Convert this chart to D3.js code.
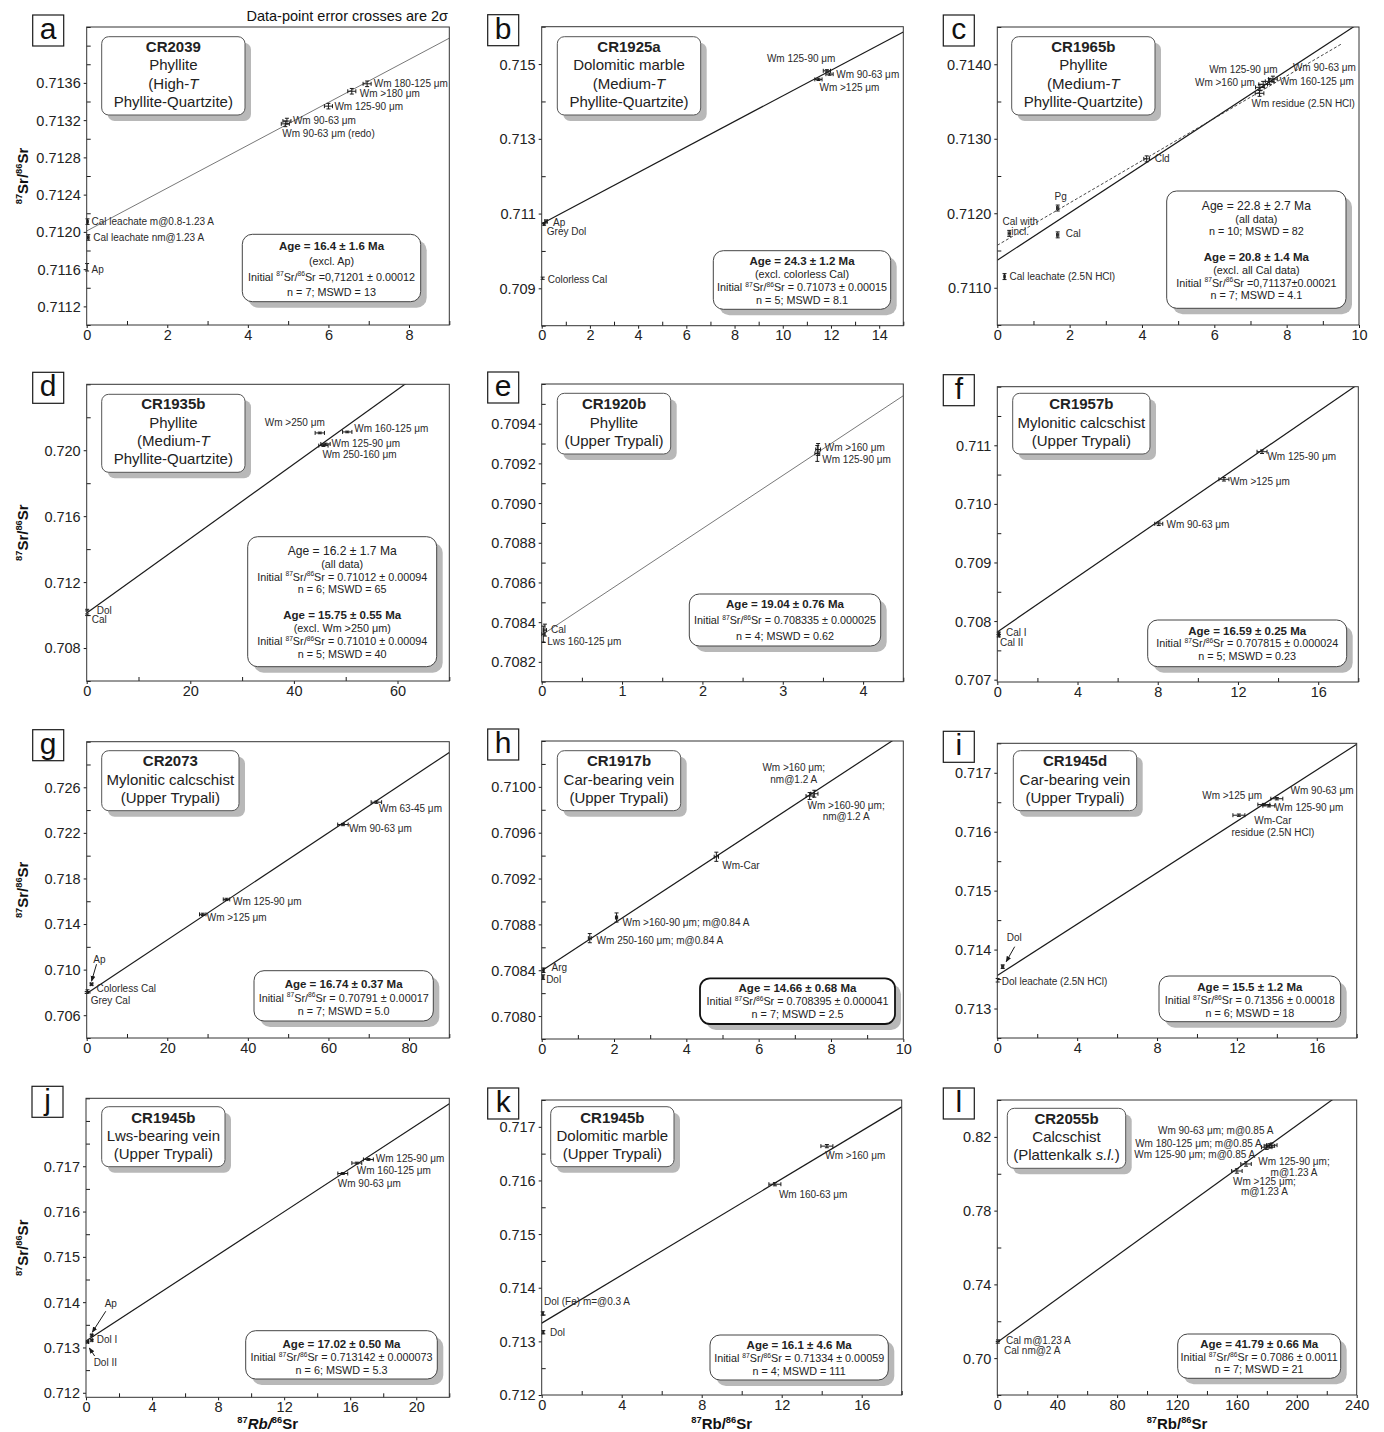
<!DOCTYPE html>
<html><head><meta charset="utf-8">
<script src="https://cdn.jsdelivr.net/npm/d3@7"></script>
<style>
body{margin:0;background:#fff}
svg{display:block}
text{font-family:"Liberation Sans",Arial,Helvetica,sans-serif}
</style>
</head><body>
<svg id="c" width="1384" height="1432"></svg>
<script>
// ---------------- DATA ----------------
// a
const xDomA=[0,9], yDomA=[0.7110,0.7142];
const xTicksA=["0","2","4","6","8"];
const yTicksA=["0.7112","0.7116","0.7120","0.7124","0.7128","0.7132","0.7136"];
const titleA=["*CR2039*","Phyllite","(High-~T~","Phyllite-Quartzite)"];
const ptsA=[
 {n:"Wm 180-125 μm",x:6.96,y:0.71359,ex:0.1,ey:0.00003},
 {n:"Wm >180 μm",x:6.58,y:0.71351,ex:0.1,ey:0.00003},
 {n:"Wm 125-90 μm",x:6.0,y:0.71335,ex:0.1,ey:0.00003},
 {n:"Wm 90-63 μm",x:4.97,y:0.71319,ex:0.1,ey:0.00003},
 {n:"Wm 90-63 μm (redo)",x:4.93,y:0.71316,ex:0.1,ey:0.00003},
 {n:"Cal leachate m@0.8-1.23 A",x:0.02,y:0.71211,ex:0.02,ey:0.00003},
 {n:"Cal leachate nm@1.23 A",x:0.04,y:0.71194,ex:0.02,ey:0.00003},
 {n:"Ap",x:0.01,y:0.71162,ex:0.01,ey:0.00004}];
const isoA=[{i:0.71201,s:0.000230}];
const statA=["*Age = 16.4 ± 1.6 Ma*","(excl. Ap)","Initial ^87^Sr/^86^Sr =0,71201 ± 0.00012","n = 7; MSWD = 13"];
// b
const xDomB=[0,15], yDomB=[0.708,0.716];
const xTicksB=["0","2","4","6","8","10","12","14"];
const yTicksB=["0.709","0.711","0.713","0.715"];
const titleB=["*CR1925a*","Dolomitic marble","(Medium-~T~","Phyllite-Quartzite)"];
const ptsB=[
 {n:"Wm 125-90 μm",x:11.83,y:0.71482,ex:0.15,ey:0.00003},
 {n:"Wm 90-63 μm",x:11.94,y:0.71473,ex:0.15,ey:0.00003},
 {n:"Wm >125 μm",x:11.48,y:0.71459,ex:0.15,ey:0.00003},
 {n:"Ap",x:0.18,y:0.71079,ex:0.05,ey:0.00004},
 {n:"Grey Dol",x:0.1,y:0.71072,ex:0.03,ey:0.00003},
 {n:"Colorless Cal",x:0.04,y:0.70927,ex:0.02,ey:0.00003}];
const isoB=[{i:0.71073,s:0.000342}];
const statB=["*Age = 24.3 ± 1.2 Ma*","(excl. colorless Cal)","Initial ^87^Sr/^86^Sr = 0.71073 ± 0.00015","n = 5; MSWD = 8.1"];
// c
const xDomC=[0,10], yDomC=[0.7105,0.7145];
const xTicksC=["0","2","4","6","8","10"];
const yTicksC=["0.7110","0.7120","0.7130","0.7140"];
const titleC=["*CR1965b*","Phyllite","(Medium-~T~","Phyllite-Quartzite)"];
const ptsC=[
 {n:"Wm 125-90 μm",x:7.35,y:0.71373,ex:0.12,ey:0.00004},
 {n:"Wm >160 μm",x:7.26,y:0.71369,ex:0.12,ey:0.00004},
 {n:"Wm 90-63 μm",x:7.62,y:0.71380,ex:0.12,ey:0.00004},
 {n:"Wm 160-125 μm",x:7.53,y:0.71377,ex:0.12,ey:0.00004},
 {n:"Wm residue (2.5N HCl)",x:7.25,y:0.71361,ex:0.12,ey:0.00004},
 {n:"Cld",x:4.13,y:0.71273,ex:0.08,ey:0.00004},
 {n:"Pg",x:1.67,y:0.71207,ex:0.03,ey:0.00004},
 {n:"Cal",x:1.67,y:0.71171,ex:0.03,ey:0.00004},
 {n:"Cal with\nincl.",x:0.33,y:0.71173,ex:0.03,ey:0.00004},
 {n:"Cal leachate (2.5N HCl)",x:0.2,y:0.71115,ex:0.02,ey:0.00004}];
const isoC=[{i:0.71137,s:0.000318},{i:0.71157,s:0.000284,x1:9.5}];
const statC=["#Age = 22.8 ± 2.7 Ma#","(all data)","n = 10; MSWD = 82","","*Age = 20.8 ± 1.4 Ma*","(excl. all Cal data)","Initial ^87^Sr/^86^Sr =0,71137±0.00021","n = 7; MSWD = 4.1"];
// d
const xDomD=[0,70], yDomD=[0.706,0.724];
const xTicksD=["0","20","40","60"];
const yTicksD=["0.708","0.712","0.716","0.720"];
const titleD=["*CR1935b*","Phyllite","(Medium-~T~","Phyllite-Quartzite)"];
const ptsD=[
 {n:"Wm >250 μm",x:45.0,y:0.72105,ex:0.9,ey:0.00005},
 {n:"Wm 160-125 μm",x:50.3,y:0.72111,ex:0.9,ey:0.00005},
 {n:"Wm 125-90 μm",x:46.1,y:0.72038,ex:0.9,ey:0.00005},
 {n:"Wm 250-160 μm",x:45.7,y:0.72028,ex:0.9,ey:0.00005},
 {n:"Dol",x:0.1,y:0.7103,ex:0.1,ey:0.00005},
 {n:"Cal",x:0.1,y:0.71002,ex:0.1,ey:0.00005}];
const isoD=[{i:0.71012,s:0.000226}];
const statD=["#Age = 16.2 ± 1.7 Ma#","(all data)","Initial ^87^Sr/^86^Sr = 0.71012 ± 0.00094","n = 6; MSWD = 65","","*Age = 15.75 ± 0.55 Ma*","(excl. Wm >250 μm)","Initial ^87^Sr/^86^Sr = 0.71010 ± 0.00094","n = 5; MSWD = 40"];
// e
const xDomE=[0,4.5], yDomE=[0.7081,0.7096];
const xTicksE=["0","1","2","3","4"];
const yTicksE=["0.7082","0.7084","0.7086","0.7088","0.7090","0.7092","0.7094"];
const titleE=["*CR1920b*","Phyllite","(Upper Trypali)"];
const ptsE=[
 {n:"Wm >160 μm",x:3.44,y:0.70927,ex:0.03,ey:0.00003},
 {n:"Wm 125-90 μm",x:3.43,y:0.70925,ex:0.03,ey:0.00004},
 {n:"Cal",x:0.04,y:0.70836,ex:0.02,ey:0.00003},
 {n:"Lws 160-125 μm",x:0.02,y:0.70834,ex:0.02,ey:0.00004}];
const isoE=[{i:0.708335,s:0.000268}];
const statE=["*Age = 19.04 ± 0.76 Ma*","Initial ^87^Sr/^86^Sr = 0.708335 ± 0.000025","n = 4; MSWD = 0.62"];
// f
const xDomF=[0,18], yDomF=[0.70696,0.712];
const xTicksF=["0","4","8","12","16"];
const yTicksF=["0.707","0.708","0.709","0.710","0.711"];
const titleF=["*CR1957b*","Mylonitic calcschist","(Upper Trypali)"];
const ptsF=[
 {n:"Wm 125-90 μm",x:13.2,y:0.71089,ex:0.25,ey:0.00003},
 {n:"Wm >125 μm",x:11.3,y:0.71042,ex:0.25,ey:0.00003},
 {n:"Wm 90-63 μm",x:8.05,y:0.70966,ex:0.2,ey:0.00003},
 {n:"Cal I",x:0.07,y:0.70779,ex:0.05,ey:0.00002},
 {n:"Cal II",x:0.07,y:0.70775,ex:0.05,ey:0.00002}];
const isoF=[{i:0.707815,s:0.000235}];
const statF=["*Age = 16.59 ± 0.25 Ma*","Initial ^87^Sr/^86^Sr = 0.707815 ± 0.000024","n = 5; MSWD = 0.23"];
// g
const xDomG=[0,90], yDomG=[0.704,0.730];
const xTicksG=["0","20","40","60","80"];
const yTicksG=["0.706","0.710","0.714","0.718","0.722","0.726"];
const titleG=["*CR2073*","Mylonitic calcschist","(Upper Trypali)"];
const ptsG=[
 {n:"Wm 63-45 μm",x:71.9,y:0.72469,ex:1.3,ey:0.0001},
 {n:"Wm 90-63 μm",x:63.6,y:0.72273,ex:1.3,ey:0.0001},
 {n:"Wm 125-90 μm",x:34.7,y:0.71616,ex:0.8,ey:0.0001},
 {n:"Wm >125 μm",x:28.8,y:0.71485,ex:0.8,ey:0.0001},
 {n:"Ap",x:1.2,y:0.70872,ex:0.3,ey:0.0001},
 {n:"Colorless Cal",x:0.2,y:0.70815,ex:0.1,ey:0.00008},
 {n:"Grey Cal",x:0.0,y:0.70799,ex:0.1,ey:0.00008}];
const isoG=[{i:0.70791,s:0.000235}];
const statG=["*Age = 16.74 ± 0.37 Ma*","Initial ^87^Sr/^86^Sr = 0.70791 ± 0.00017","n = 7; MSWD = 5.0"];
// h
const xDomH=[0,10], yDomH=[0.7078,0.7104];
const xTicksH=["0","2","4","6","8","10"];
const yTicksH=["0.7080","0.7084","0.7088","0.7092","0.7096","0.7100"];
const titleH=["*CR1917b*","Car-bearing vein","(Upper Trypali)"];
const ptsH=[
 {n:"Wm >160 μm;\nnm@1.2 A",x:7.54,y:0.70994,ex:0.1,ey:0.00003},
 {n:"Wm >160-90 μm;\nnm@1.2 A",x:7.41,y:0.70992,ex:0.1,ey:0.00003},
 {n:"Wm-Car",x:4.83,y:0.70939,ex:0.06,ey:0.00004},
 {n:"Wm >160-90 μm; m@0.84 A",x:2.07,y:0.70886,ex:0.03,ey:0.00004},
 {n:"Wm 250-160 μm; m@0.84 A",x:1.33,y:0.70868,ex:0.04,ey:0.00004},
 {n:"Arg",x:0.05,y:0.7084,ex:0.02,ey:0.00002},
 {n:"Dol",x:0.04,y:0.70834,ex:0.02,ey:0.00002}];
const isoH=[{i:0.708395,s:0.000207}];
const statH=["*Age = 14.66 ± 0.68 Ma*","Initial ^87^Sr/^86^Sr = 0.708395 ± 0.000041","n = 7; MSWD = 2.5"];
// i
const xDomI=[0,18], yDomI=[0.7125,0.7175];
const xTicksI=["0","4","8","12","16"];
const yTicksI=["0.713","0.714","0.715","0.716","0.717"];
const titleI=["*CR1945d*","Car-bearing vein","(Upper Trypali)"];
const ptsI=[
 {n:"Wm 90-63 μm",x:14.0,y:0.71656,ex:0.3,ey:0.00002},
 {n:"Wm >125 μm",x:13.35,y:0.71646,ex:0.3,ey:0.00002},
 {n:"Wm 125-90 μm",x:13.6,y:0.71644,ex:0.3,ey:0.00002},
 {n:"Wm-Car\nresidue (2.5N HCl)",x:12.1,y:0.71628,ex:0.3,ey:0.00002},
 {n:"Dol",x:0.27,y:0.71371,ex:0.05,ey:0.00003},
 {n:"Dol leachate (2.5N HCl)",x:0.02,y:0.71348,ex:0.02,ey:0.00003}];
const isoI=[{i:0.71356,s:0.000218}];
const statI=["*Age = 15.5 ± 1.2 Ma*","Initial ^87^Sr/^86^Sr = 0.71356 ± 0.00018","n = 6; MSWD = 18"];
// j
const xDomJ=[0,22], yDomJ=[0.7119,0.7185];
const xTicksJ=["0","4","8","12","16","20"];
const yTicksJ=["0.712","0.713","0.714","0.715","0.716","0.717"];
const titleJ=["*CR1945b*","Lws-bearing vein","(Upper Trypali)"];
const ptsJ=[
 {n:"Wm 125-90 μm",x:17.1,y:0.71715,ex:0.3,ey:0.00002},
 {n:"Wm 160-125 μm",x:16.4,y:0.71707,ex:0.3,ey:0.00002},
 {n:"Wm 90-63 μm",x:15.55,y:0.71684,ex:0.3,ey:0.00002},
 {n:"Ap",x:0.35,y:0.71327,ex:0.05,ey:0.00002},
 {n:"Dol I",x:0.35,y:0.71316,ex:0.05,ey:0.00002},
 {n:"Dol II",x:0.1,y:0.71312,ex:0.05,ey:0.00002}];
const isoJ=[{i:0.713142,s:0.000238}];
const statJ=["*Age = 17.02 ± 0.50 Ma*","Initial ^87^Sr/^86^Sr = 0.713142 ± 0.000073","n = 6; MSWD = 5.3"];
// k
const xDomK=[0,18], yDomK=[0.712,0.7175];
const xTicksK=["0","4","8","12","16"];
const yTicksK=["0.712","0.713","0.714","0.715","0.716","0.717"];
const titleK=["*CR1945b*","Dolomitic marble","(Upper Trypali)"];
const ptsK=[
 {n:"Wm >160 μm",x:14.26,y:0.71664,ex:0.3,ey:0.00003},
 {n:"Wm 160-63 μm",x:11.66,y:0.71593,ex:0.3,ey:0.00003},
 {n:"Dol (Fe) m=@0.3 A",x:0.05,y:0.71352,ex:0.03,ey:0.00003},
 {n:"Dol",x:0.08,y:0.71317,ex:0.03,ey:0.00003}];
const isoK=[{i:0.71334,s:0.000224}];
const statK=["*Age = 16.1 ± 4.6 Ma*","Initial ^87^Sr/^86^Sr = 0.71334 ± 0.00059","n = 4; MSWD = 111"];
// l
const xDomL=[0,240], yDomL=[0.68,0.84];
const xTicksL=["0","40","80","120","160","200","240"];
const yTicksL=["0.70","0.74","0.78","0.82"];
const titleL=["*CR2055b*","Calcschist","(Plattenkalk ~s.l.~)"];
const ptsL=[
 {n:"Wm 90-63 μm; m@0.85 A",x:181.7,y:0.8151,ex:3.5,ey:0.0012},
 {n:"Wm 180-125 μm; m@0.85 A",x:179.9,y:0.8144,ex:3.5,ey:0.0012},
 {n:"Wm 125-90 μm; m@0.85 A",x:183.3,y:0.8155,ex:3.5,ey:0.0012},
 {n:"Wm 125-90 μm;\nm@1.23 A",x:166.1,y:0.8053,ex:3.5,ey:0.0012},
 {n:"Wm >125 μm;\nm@1.23 A",x:160,y:0.8015,ex:3.5,ey:0.0012},
 {n:"Cal m@1.23 A",x:0.5,y:0.7094,ex:0.3,ey:0.0005},
 {n:"Cal nm@2 A",x:0.3,y:0.7086,ex:0.3,ey:0.0005}];
const isoL=[{i:0.7086,s:0.000588}];
const statL=["*Age = 41.79 ± 0.66 Ma*","Initial ^87^Sr/^86^Sr = 0.7086 ± 0.0011","n = 7; MSWD = 21"];

const headerText="Data-point error crosses are 2σ";
const yTitle="^87^Sr/^86^Sr";
const xTitles={j:"^87^~Rb/~^86^Sr",k:"^87^Rb/^86^Sr",l:"^87^Rb/^86^Sr"};

// ---------------- LAYOUT (positions / styles) ----------------
const LAY={
a:{plot:[86.7,27,449.3,325],tb:[15,9.7,143.3,78.3,10,18.3],sb:[155.6,207.3,178.4,67.4,11.7,15.3],
   lbl:[[6.6,3.5],[8,6],[6,4],[6,3],[-3,13.5],[4,3.5],[5,3.5],[4.5,5.5]],thin:true,ytitle:true},
b:{plot:[541.7,26.7,903.3,325.7],tb:[15.6,10,143.4,78.3,10,18.3],sb:[171.6,224,177.4,58.6,10.3,13],
   lbl:[[-60,-9],[6.7,4],[1,11.7],[7,4.5],[2.7,10.7],[5,4.5]]},
c:{plot:[997.3,27,1359,325],tb:[14.4,9.7,143.3,78.3,10,18.3],sb:[169.4,164,179.3,117.3,14.7,12.8],
   lbl:[[-54,-11.6],[-5,-1.3,"end"],[20,-7.7],[10,3.4],[-8,13.8],[8,3.5],[3,-7.6,"middle"],[8,2.4],[11,-8.4,"middle"],[5,3.5]],lh:10.5},
d:{plot:[86.7,384.3,449.3,681],tb:[15,10,143.3,78,9.7,18.3],sb:[161,152.4,189,130,14,12.9],
   lbl:[[-55,-7],[7,0],[6,3.5],[-1,12.5],[9.5,3.5],[4.5,8.5]],ytitle:true},
e:{plot:[541.7,384,903.3,681.7],tb:[15.6,9.3,113.4,60.7,10.7,18.3],sb:[147.6,210,191.4,52,10.3,15.8],
   lbl:[[6.7,2],[5,10],[6,3],[4,10.5]],thin:true},
f:{plot:[997.3,386.7,1358.3,682],tb:[15.4,6.6,137.3,60.7,10.7,18.3],sb:[150.4,233.3,199,46.7,10.7,12.5],
   lbl:[[5.4,8],[6,6],[7.7,3.8],[7.3,2.6],[1.3,10.2]]},
g:{plot:[86.7,741.7,449.3,1038],tb:[15,9,137.3,60,10.3,18.3],sb:[167.3,229,179.3,50.3,13.3,13.5],
   lbl:[[2.6,9.8],[6,7.8],[6.5,5.6],[4,6.6],[1.8,-21.5],[9,1.3],[4,11]],ytitle:true,
   arrows:[{p:4,f:[5,-20],t:[0,-3]}]},
h:{plot:[541.7,741,903.3,1039],tb:[15.6,9.7,123.4,60,10.3,18.3],sb:[158.3,237.3,195,45.7,9.4,13.3],
   lbl:[[-20.6,-22.8,"middle"],[36.5,12.6,"middle"],[6,11.8],[6,8.3],[6.8,5.4],[8,1],[3,5.7]],lh:11.7,boldStat:true},
i:{plot:[997.3,743.3,1356.7,1038],tb:[16,7.4,123.4,60,10.3,18.3],sb:[161.7,232.7,181.7,45.7,10.7,13],
   lbl:[[13.7,-4.4],[-1.7,-5.3,"end"],[6,5.2],[34,8.7,"middle"],[11.5,-25.6,"middle"],[4,4.7]],lh:11.7,
   arrows:[{p:4,f:[12,-20],t:[3.5,-5]}]},
j:{plot:[86,1098.3,449.3,1397.3],tb:[15.7,8.4,123.3,60,10.6,18.3],sb:[159.7,232.4,191.6,48.3,13.3,13],
   lbl:[[7.4,2.5],[0,10.7],[-5,13],[19,-28.1,"middle"],[5,3],[6,24.1]],ytitle:true,
   arrows:[{p:3,f:[14,-24],t:[0.5,-3]},{p:5,f:[7,14],t:[1.7,6]}]},
k:{plot:[541.7,1100,901.7,1395],tb:[9,6.7,123.3,60,10.6,18.3],sb:[168.3,235,178.3,45,10,13],
   lbl:[[-1.6,12.7],[4,13.3],[1.3,-8.9],[6.7,4.1]]},
l:{plot:[997.3,1100,1356.7,1395],tb:[10,8.3,118.4,60,10,18.3],sb:[180.4,234,163,44.3,10.3,12.5],
   lbl:[[4,-12.3,"end"],[-5,-0.3,"end"],[-16.6,12.5,"end"],[48,1.3,"middle"],[27.5,14,"middle"],[8,3.6],[6.3,12]],lh:10.5}
};

const panels=[
 {id:"a",xd:xDomA,yd:yDomA,xt:xTicksA,yt:yTicksA,title:titleA,pts:ptsA,iso:isoA,stat:statA},
 {id:"b",xd:xDomB,yd:yDomB,xt:xTicksB,yt:yTicksB,title:titleB,pts:ptsB,iso:isoB,stat:statB},
 {id:"c",xd:xDomC,yd:yDomC,xt:xTicksC,yt:yTicksC,title:titleC,pts:ptsC,iso:isoC,stat:statC},
 {id:"d",xd:xDomD,yd:yDomD,xt:xTicksD,yt:yTicksD,title:titleD,pts:ptsD,iso:isoD,stat:statD},
 {id:"e",xd:xDomE,yd:yDomE,xt:xTicksE,yt:yTicksE,title:titleE,pts:ptsE,iso:isoE,stat:statE},
 {id:"f",xd:xDomF,yd:yDomF,xt:xTicksF,yt:yTicksF,title:titleF,pts:ptsF,iso:isoF,stat:statF},
 {id:"g",xd:xDomG,yd:yDomG,xt:xTicksG,yt:yTicksG,title:titleG,pts:ptsG,iso:isoG,stat:statG},
 {id:"h",xd:xDomH,yd:yDomH,xt:xTicksH,yt:yTicksH,title:titleH,pts:ptsH,iso:isoH,stat:statH},
 {id:"i",xd:xDomI,yd:yDomI,xt:xTicksI,yt:yTicksI,title:titleI,pts:ptsI,iso:isoI,stat:statI},
 {id:"j",xd:xDomJ,yd:yDomJ,xt:xTicksJ,yt:yTicksJ,title:titleJ,pts:ptsJ,iso:isoJ,stat:statJ},
 {id:"k",xd:xDomK,yd:yDomK,xt:xTicksK,yt:yTicksK,title:titleK,pts:ptsK,iso:isoK,stat:statK},
 {id:"l",xd:xDomL,yd:yDomL,xt:xTicksL,yt:yTicksL,title:titleL,pts:ptsL,iso:isoL,stat:statL}
];

// ---------------- DRAW ----------------
const svg=d3.select("#c");
const INK="#1a1a1a", TXT="#222";

const defs=svg.append("defs");
defs.append("marker").attr("id","arr").attr("viewBox","0 0 10 10").attr("refX",9).attr("refY",5)
  .attr("markerWidth",6).attr("markerHeight",6).attr("orient","auto")
  .append("path").attr("d","M0,1 L10,5 L0,9 Z").attr("fill",INK);

function rich(t,str,fs){
  let s=str;
  if(s.length>1&&s[0]==="*"&&s[s.length-1]==="*"){t.attr("font-weight","bold");s=s.slice(1,-1);}
  if(s.length>1&&s[0]==="#"&&s[s.length-1]==="#"){t.attr("font-size",fs*1.12);fs=fs*1.12;s=s.slice(1,-1);}
  const parts=s.split(/(\^[^\^]*\^|~[^~]*~)/).filter(d=>d.length);
  let up=false;
  parts.forEach(pt=>{
    if(pt.length>1&&pt[0]==="^"&&pt[pt.length-1]==="^"){
      t.append("tspan").attr("dy",up?0:-fs*0.38).attr("font-size",fs*0.62).text(pt.slice(1,-1));
      up=true;
    }else{
      const ts=t.append("tspan");
      if(up){ts.attr("dy",fs*0.38);up=false;}
      if(pt.length>1&&pt[0]==="~"&&pt[pt.length-1]==="~") ts.attr("font-style","italic").text(pt.slice(1,-1));
      else ts.text(pt);
    }
  });
}

function minors(maj,dom){
  const st=(maj[1]-maj[0])/2, lo=Math.min(...dom), hi=Math.max(...dom);
  let k0=0; while(maj[0]-(k0+1)*st>=lo-st*1e-6) k0++;
  const out=[];
  for(let k=-k0;;k++){
    const v=maj[0]+k*st; if(v>hi+st*1e-6) break;
    if(!maj.some(m=>Math.abs(m-v)<st*1e-3)) out.push(v);
  }
  return out;
}

panels.forEach(P=>{
  const Ly=LAY[P.id];
  const [l,t,r,b]=Ly.plot;
  const x=d3.scaleLinear().domain(P.xd).range([l,r]);
  const y=d3.scaleLinear().domain(P.yd).range([b,t]);
  const g=svg.append("g");
  const xMaj=P.xt.map(Number), yMaj=P.yt.map(Number);

  const cid="clip-"+P.id;
  defs.append("clipPath").attr("id",cid).append("rect").attr("x",l).attr("y",t).attr("width",r-l).attr("height",b-t);

  const ax=g.append("g").attr("transform",`translate(${l},0)`)
    .call(d3.axisLeft(y).tickValues(yMaj).tickFormat((d,i)=>P.yt[i]).tickSize(3).tickPadding(3));
  ax.select(".domain").remove();
  ax.selectAll("line").attr("stroke",INK);
  ax.selectAll("text").attr("font-size",14.5).attr("fill",TXT).attr("font-family",null).attr("dy","0.34em");
  const axm=g.append("g").attr("transform",`translate(${l},0)`)
    .call(d3.axisLeft(y).tickValues(minors(yMaj,P.yd)).tickFormat("").tickSize(-4));
  axm.select(".domain").remove(); axm.selectAll("line").attr("stroke",INK);

  const bx=g.append("g").attr("transform",`translate(0,${b})`)
    .call(d3.axisBottom(x).tickValues(xMaj).tickFormat((d,i)=>P.xt[i]).tickSize(3).tickPadding(1.5));
  bx.select(".domain").remove();
  bx.selectAll("line").attr("stroke",INK);
  bx.selectAll("text").attr("font-size",14.5).attr("fill",TXT).attr("font-family",null);
  const bxm=g.append("g").attr("transform",`translate(0,${b})`)
    .call(d3.axisBottom(x).tickValues(minors(xMaj,P.xd)).tickFormat("").tickSize(-4));
  bxm.select(".domain").remove(); bxm.selectAll("line").attr("stroke",INK);

  const cl=g.append("g").attr("clip-path",`url(#${cid})`);
  P.iso.forEach((L,k)=>{
    const x1=L.x1!==undefined?L.x1:P.xd[1];
    const line=d3.line().x(d=>x(d)).y(d=>y(L.i+L.s*d));
    const path=cl.append("path").attr("d",line([0,x1])).attr("fill","none");
    if(k===1){path.attr("stroke","#333").attr("stroke-width",0.9).attr("stroke-dasharray","3,2");}
    else if(Ly.thin){path.attr("stroke","#555").attr("stroke-width",0.8);}
    else {path.attr("stroke",INK).attr("stroke-width",1.2);}
  });

  const [tx,ty,tw,th,tf,tl]=Ly.tb;
  g.append("rect").attr("x",l+tx+6).attr("y",t+ty+6).attr("width",tw).attr("height",th).attr("rx",7)
    .attr("fill","#b8b8b8");
  g.append("rect").attr("x",l+tx).attr("y",t+ty).attr("width",tw).attr("height",th).attr("rx",7)
    .attr("fill","#fff").attr("stroke","#555").attr("stroke-width",1);
  P.title.forEach((s,i)=>{
    const te=g.append("text").attr("x",l+tx+tw/2).attr("y",t+ty+tf+5.3+i*tl)
      .attr("text-anchor","middle").attr("font-size",15).attr("fill",TXT);
    rich(te,s,15);
  });

  const [sx,sy,sw,sh,sf,sl]=Ly.sb;
  g.append("rect").attr("x",l+sx+6).attr("y",t+sy+6).attr("width",sw).attr("height",sh).attr("rx",10)
    .attr("fill","#b8b8b8");
  g.append("rect").attr("x",l+sx).attr("y",t+sy).attr("width",sw).attr("height",sh).attr("rx",10)
    .attr("fill","#fff").attr("stroke",Ly.boldStat?"#111":"#444").attr("stroke-width",Ly.boldStat?1.8:1);
  P.stat.forEach((s,i)=>{
    if(!s) return;
    const bold=s[0]==="*";
    const fs=bold?11.5:10.8;
    const te=g.append("text").attr("x",l+sx+sw/2).attr("y",t+sy+sf+4+i*sl)
      .attr("text-anchor","middle").attr("font-size",fs).attr("fill",TXT);
    rich(te,s,fs);
  });

  const pg=g.append("g").attr("stroke",INK).attr("stroke-width",1).attr("fill","none");
  P.pts.forEach(p=>{
    const px=x(p.x), py=y(p.y);
    const x0=x(p.x-p.ex), x1=x(p.x+p.ex), y0=y(p.y-p.ey), y1=y(p.y+p.ey);
    const c=2;
    if(x1-x0>1.2){
      pg.append("line").attr("x1",x0).attr("x2",x1).attr("y1",py).attr("y2",py);
      pg.append("line").attr("x1",x0).attr("x2",x0).attr("y1",py-c).attr("y2",py+c);
      pg.append("line").attr("x1",x1).attr("x2",x1).attr("y1",py-c).attr("y2",py+c);
    }
    pg.append("line").attr("x1",px).attr("x2",px).attr("y1",y0).attr("y2",y1);
    pg.append("line").attr("x1",px-c).attr("x2",px+c).attr("y1",y0).attr("y2",y0);
    pg.append("line").attr("x1",px-c).attr("x2",px+c).attr("y1",y1).attr("y2",y1);
  });

  const lh=Ly.lh||11;
  P.pts.forEach((p,k)=>{
    const o=Ly.lbl[k]; if(!o) return;
    const px=x(p.x), py=y(p.y);
    p.n.split("\n").forEach((s,li)=>{
      g.append("text").attr("x",px+o[0]).attr("y",py+o[1]+li*lh)
        .attr("text-anchor",o[2]||"start").attr("font-size",10).attr("fill","#2a2a2a").text(s);
    });
  });

  (Ly.arrows||[]).forEach(A=>{
    const p=P.pts[A.p], px=x(p.x), py=y(p.y);
    g.append("line").attr("x1",px+A.f[0]).attr("y1",py+A.f[1]).attr("x2",px+A.t[0]).attr("y2",py+A.t[1])
      .attr("stroke",INK).attr("stroke-width",1).attr("marker-end","url(#arr)");
  });

  g.append("rect").attr("x",l).attr("y",t).attr("width",r-l).attr("height",b-t)
    .attr("fill","none").attr("stroke","#333").attr("stroke-width",1);

  g.append("rect").attr("x",l-54).attr("y",t-12).attr("width",31).attr("height",31)
    .attr("fill","#fff").attr("stroke",INK).attr("stroke-width",1.2);
  g.append("text").attr("x",l-54+15.5).attr("y",t-12+24).attr("text-anchor","middle")
    .attr("font-size",30).attr("fill","#111").text(P.id);

  if(Ly.ytitle){
    const te=g.append("text").attr("transform",`translate(28,${(t+b)/2}) rotate(-90)`)
      .attr("text-anchor","middle").attr("font-size",15).attr("font-weight","bold").attr("fill","#111");
    rich(te,yTitle,15);
  }
  if(xTitles[P.id]){
    const te=g.append("text").attr("x",(l+r)/2).attr("y",1429)
      .attr("text-anchor","middle").attr("font-size",15).attr("font-weight","bold").attr("fill","#111");
    rich(te,xTitles[P.id],15);
  }
});

svg.append("text").attr("x",448).attr("y",20.5).attr("text-anchor","end").attr("font-size",14.5)
  .attr("fill","#111").text(headerText);
</script>
</body></html>
